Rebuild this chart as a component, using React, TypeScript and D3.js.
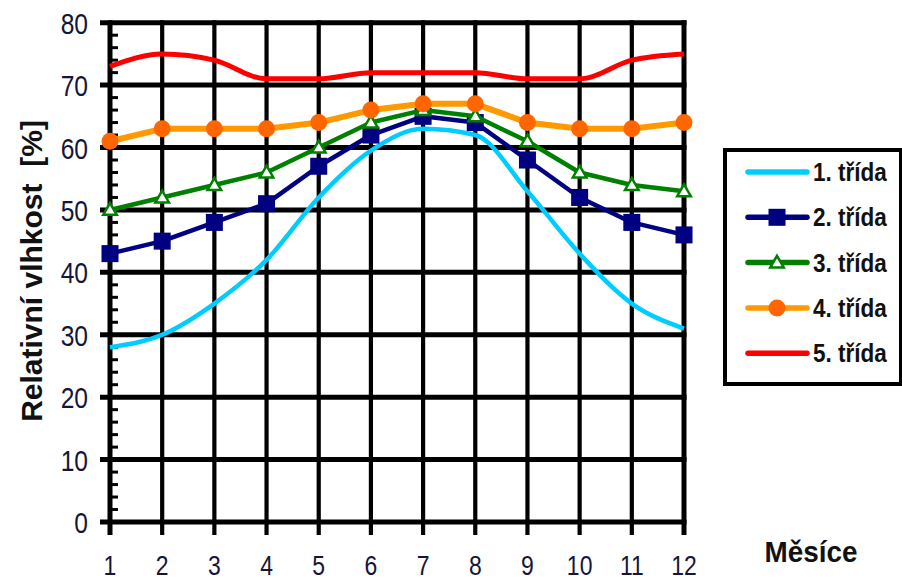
import React from "react";
import * as d3 from "d3";

const months = [1, 2, 3, 4, 5, 6, 7, 8, 9, 10, 11, 12];
const yTicks = [0, 10, 20, 30, 40, 50, 60, 70, 80];
const class1 = [28, 30, 35, 42, 52, 59.5, 63, 62, 53, 43, 35, 31];
const class2 = [43, 45, 48, 51, 57, 62, 65, 64, 58, 52, 48, 46];
const class3 = [50, 52, 54, 56, 60, 64, 66, 65, 61, 56, 54, 53];
const class4 = [61, 63, 63, 63, 64, 66, 67, 67, 64, 63, 63, 64];
const class5 = [73, 75, 74, 71, 71, 72, 72, 72, 71, 71, 74, 75];
const seriesNames = ["1. třída", "2. třída", "3. třída", "4. třída", "5. třída"];

type Series = {
  name: string;
  values: number[];
  color: string;
  width: number;
  smooth: boolean;
  marker: "none" | "square" | "triangle" | "circle";
  markerFill: string;
};

const series: Series[] = [
  { name: seriesNames[0], values: class1, color: "#00CCFF", width: 4.5, smooth: true, marker: "none", markerFill: "none" },
  { name: seriesNames[1], values: class2, color: "#000080", width: 4.5, smooth: false, marker: "square", markerFill: "#000080" },
  { name: seriesNames[2], values: class3, color: "#008000", width: 4.5, smooth: false, marker: "triangle", markerFill: "#FFFFFF" },
  { name: seriesNames[3], values: class4, color: "#FF9900", width: 6, smooth: false, marker: "circle", markerFill: "#FF6600" },
  { name: seriesNames[4], values: class5, color: "#FF0000", width: 5, smooth: true, marker: "none", markerFill: "none" },
];

const x = d3.scaleLinear().domain([1, 12]).range([110, 684]);
const y = d3.scaleLinear().domain([0, 80]).range([522, 22.7]);

function Marker({ kind, cx, cy, s }: { kind: string; cx: number; cy: number; s: Series }) {
  if (kind === "square") {
    return <rect x={cx - 8.5} y={cy - 8.5} width={17} height={17} fill={s.markerFill} />;
  }
  if (kind === "circle") {
    return <circle cx={cx} cy={cy} r={8.5} fill={s.markerFill} />;
  }
  if (kind === "triangle") {
    const p = d3.symbol(d3.symbolTriangle, 80)();
    return (
      <path d={p || ""} transform={`translate(${cx},${cy + 1})`} fill={s.markerFill} stroke={s.color} strokeWidth={2.5} />
    );
  }
  return null;
}

export default function App() {
  const minorTicks: number[] = [];
  for (let v = 2; v < 80; v += 2) if (v % 10 !== 0) minorTicks.push(v);
  const labelColor = "#15153a";
  const font = "'Liberation Sans', Arial, sans-serif";

  return (
    <svg width={902} height={580} style={{ position: "absolute", left: 0, top: 0, background: "#fff" }}>
      {/* horizontal gridlines */}
      {yTicks.map((t) => (
        <line key={"h" + t} x1={100} x2={686.5} y1={y(t)} y2={y(t)} stroke="#000" strokeWidth={5} />
      ))}
      {/* vertical gridlines */}
      {months.map((m) => (
        <line
          key={"v" + m}
          x1={x(m)}
          x2={x(m)}
          y1={y(80) - 2.5}
          y2={535}
          stroke="#000"
          strokeWidth={m === 1 || m === 12 ? 5 : 4.2}
        />
      ))}
      {/* minor ticks */}
      {minorTicks.map((t) => (
        <line key={"m" + t} x1={110} x2={118} y1={y(t)} y2={y(t)} stroke="#000" strokeWidth={3} />
      ))}
      {/* y tick labels */}
      {yTicks.map((t) => (
        <text
          key={"yl" + t}
          transform={`translate(88,${y(t) + 11}) scale(0.82,1)`}
          textAnchor="end"
          fontFamily={font}
          fontSize={30}
          fill={labelColor}
        >
          {t}
        </text>
      ))}
      {/* x tick labels */}
      {months.map((m) => (
        <text
          key={"xl" + m}
          transform={`translate(${x(m)},575) scale(0.82,1)`}
          textAnchor="middle"
          fontFamily={font}
          fontSize={28}
          fill={labelColor}
        >
          {m}
        </text>
      ))}
      {/* series */}
      {series.map((s, i) => {
        const line = d3
          .line<number>()
          .x((_, j) => x(months[j]))
          .y((v) => y(v))
          .curve(s.smooth ? d3.curveMonotoneX : d3.curveLinear);
        return (
          <g key={"s" + i}>
            <path d={line(s.values) || ""} fill="none" stroke={s.color} strokeWidth={s.width} strokeLinejoin="round" />
            {s.values.map((v, j) => (
              <Marker key={j} kind={s.marker} cx={x(months[j])} cy={y(v)} s={s} />
            ))}
          </g>
        );
      })}
      {/* axis title */}
      <text
        transform="translate(42,271) rotate(-90)"
        textAnchor="middle"
        fontFamily={font}
        fontWeight="bold"
        fontSize={30}
        fill="#111"
      >
        {"Relativní vlhkost\u00a0\u00a0[%]"}
      </text>
      <text
        transform="translate(811,562) scale(0.93,1)"
        textAnchor="middle"
        fontFamily={font}
        fontWeight="bold"
        fontSize={30}
        fill="#111"
      >
        Měsíce
      </text>
      {/* legend */}
      <rect x={725} y={150} width={176} height={234} fill="#fff" stroke="#000" strokeWidth={4} />
      {series.map((s, i) => {
        const ly = 172 + i * 45.3;
        return (
          <g key={"lg" + i}>
            <line x1={748} x2={807} y1={ly} y2={ly} stroke={s.color} strokeWidth={5.5} strokeLinecap="round" />
            <Marker kind={s.marker} cx={777} cy={ly} s={s} />
            <text
              transform={`translate(813,${ly + 9}) scale(0.9,1)`}
              fontFamily={font}
              fontWeight="bold"
              fontSize={25}
              fill="#111"
            >
              {s.name}
            </text>
          </g>
        );
      })}
    </svg>
  );
}
